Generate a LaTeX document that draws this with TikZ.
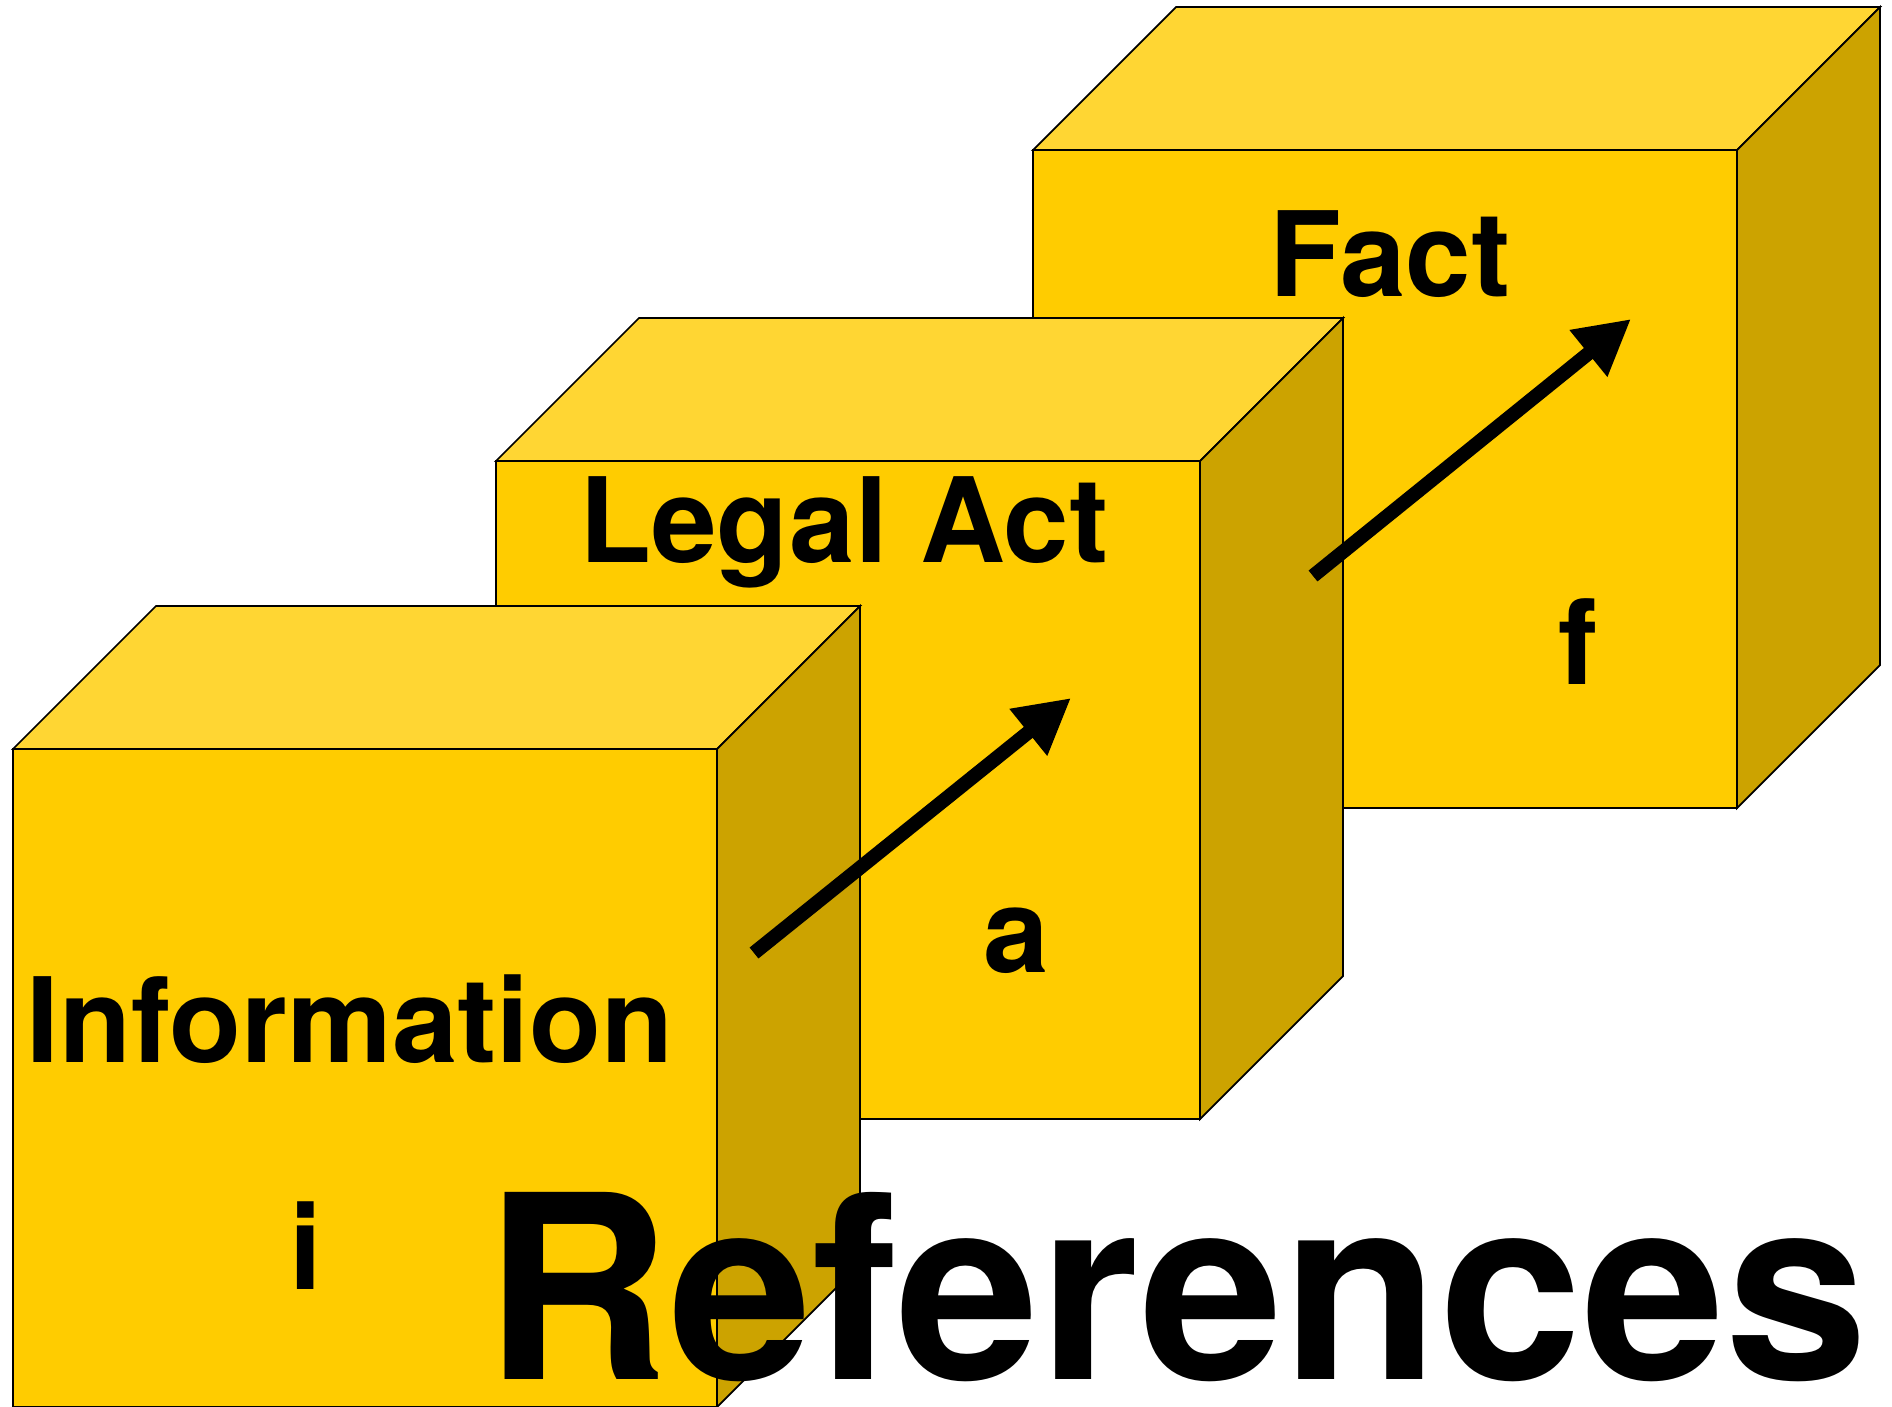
\documentclass[tikz,border=0pt]{standalone}
\usepackage{fontspec}
\setmainfont{TeX Gyre Heros}
\usetikzlibrary{arrows.meta}
\definecolor{cubefront}{HTML}{FFCC00}
\definecolor{cubetop}{HTML}{FFD633}
\definecolor{cubeside}{HTML}{CCA300}
% cube with front face at (x,y), 704 wide, 658 high, depth 143
\newcommand{\goldcube}[2]{%
  \filldraw[frontface] (#1,#2) rectangle ++(704,658);
  \filldraw[topface] (#1,#2) -- ++(143,-143) -- ++(704,0) -- ++(-143,143) -- cycle;
  \filldraw[sideface] (#1+704,#2) -- ++(143,-143) -- ++(0,658) -- ++(-143,143) -- cycle;
}

\begin{document}
\begin{tikzpicture}[x=0.01cm,y=-0.01cm,
  frontface/.style={fill=cubefront,draw=black,line width=0.5pt,line join=miter},
  topface/.style={fill=cubetop,draw=black,line width=0.5pt,line join=miter},
  sideface/.style={fill=cubeside,draw=black,line width=0.5pt,line join=miter},
  label/.style={anchor=base,inner sep=0pt,font=\fontsize{33.5}{40}\selectfont\bfseries},
  title/.style={anchor=base,inner sep=0pt,font=\fontsize{73}{80}\selectfont\bfseries},
  push/.style={-{Triangle[length=15.6pt,width=16pt]},line width=4pt}]
\useasboundingbox (0,0) rectangle (1892,1407);

\goldcube{1033}{150}
\goldcube{496}{461}
\goldcube{13}{749}

\coordinate (infotail) at (754,953);
\coordinate (legalhead) at (1071,698);
\coordinate (legaltail) at (1313,576);
\coordinate (facthead) at (1631,319);
\draw[push] (infotail) -- (legalhead);
\draw[push] (legaltail) -- (facthead);

\node[label] (fact) at (1390,297) {Fact};
\node[label] (factletter) at (1578,685) {f};
\node[label] (legal) at (844,563) {Legal Act};
\node[label] (legalletter) at (1016,972) {a};
\node[label] (info) at (350,1062) {Information};
\node[label] (infoletter) at (306,1289) {i};
\node[title] (references) at (1176,1379) {References};
\end{tikzpicture}
\end{document}
